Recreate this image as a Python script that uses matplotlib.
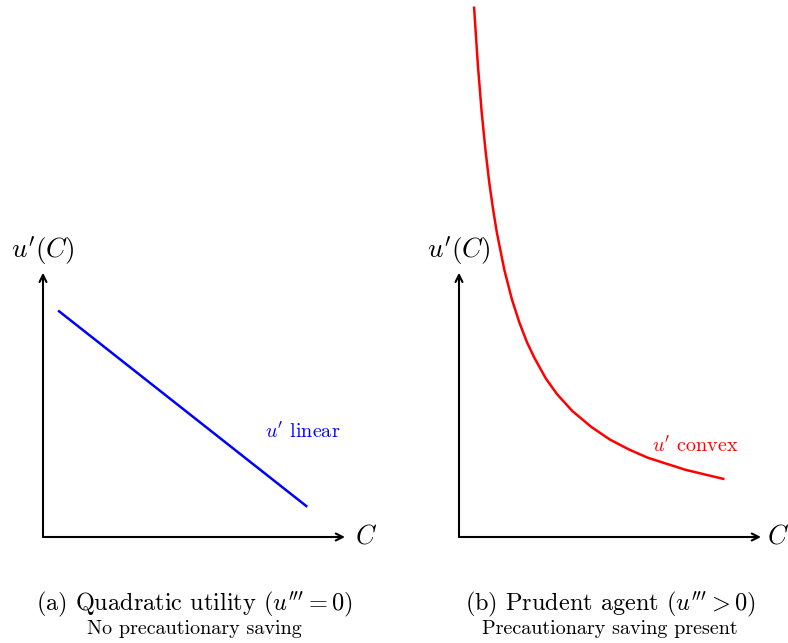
import matplotlib
matplotlib.use("Agg")
import matplotlib.pyplot as plt

plt.rcParams['mathtext.fontset'] = 'cm'
plt.rcParams['font.family'] = ['cmr10', 'DejaVu Serif']
plt.rcParams['axes.formatter.use_mathtext'] = True

# panel (a): linear marginal utility (end points)
lin_c = [0.2, 3.5]
lin_u = [3.0, 0.4]

# panel (b): convex marginal utility
cvx_c = [0.2, 0.25, 0.3, 0.35, 0.4, 0.45, 0.5, 0.6, 0.7, 0.8, 0.9, 1.0,
         1.15, 1.3, 1.5, 1.75, 2.0, 2.25, 2.5, 2.75, 3.0, 3.25, 3.5]
cvx_u = [7.01, 6.25, 5.63, 5.13, 4.70, 4.35, 4.04, 3.54, 3.15, 2.84, 2.58, 2.37,
         2.10, 1.89, 1.67, 1.46, 1.29, 1.16, 1.05, 0.97, 0.89, 0.83, 0.77]

titles = [r"(a) Quadratic utility ($u''' = 0$)", r"(b) Prudent agent ($u''' > 0$)"]
subtitles = ["No precautionary saving", "Precautionary saving present"]
curve_labels = [r"$u'$ linear", r"$u'$ convex"]

x_len, y_len = 4.0, 3.5
scale = 75.5  # pixels per unit
W, H = 788, 643

fig = plt.figure(figsize=(W / 100, H / 100), dpi=100)

origins = [43, 459]
for k, ox in enumerate(origins):
    left_px = k * W / 2
    ax = fig.add_axes([k * 0.5, 0, 0.5, 1])
    ax.set_xlim((left_px - ox) / scale, (left_px + W / 2 - ox) / scale)
    ax.set_ylim(-(H - 537) / scale, 537 / scale)
    ax.axis('off')

    arr = dict(arrowstyle='->,head_length=0.5,head_width=0.25', lw=1.5, color='black',
               shrinkA=0, shrinkB=0)
    ax.annotate('', xy=(x_len, 0), xytext=(0, 0), arrowprops=arr)
    ax.annotate('', xy=(0, y_len), xytext=(0, 0), arrowprops=arr)
    # right-hand C sits at the figure edge; nudge it in so it stays whole
    c_off = 0.13 if k == 0 else 0.08
    ax.text(x_len + c_off, 0, r'$C$', fontsize=19, ha='left', va='center')
    ax.text(0, y_len + 0.3, r"$u'(C)$", fontsize=19.5, ha='center', va='center')

    if k == 0:
        ax.plot(lin_c, lin_u, color='#0000ff', lw=1.8, solid_capstyle='butt')
        ax.text(3.44, 1.39, curve_labels[0], color='#0000ff', fontsize=14.5,
                ha='center', va='center')
    else:
        ax.plot(cvx_c, cvx_u, color='#ff0000', lw=1.8, clip_on=False)
        ax.text(3.13, 1.2, curve_labels[1], color='#ff0000', fontsize=14.5,
                ha='center', va='center')

    ax.text(2.0, -0.887, titles[k], fontsize=17.5, ha='center', va='center')
    ax.text(2.0, -1.22, subtitles[k], fontsize=14.5, ha='center', va='center')

fig.savefig('out.png', dpi=100)
